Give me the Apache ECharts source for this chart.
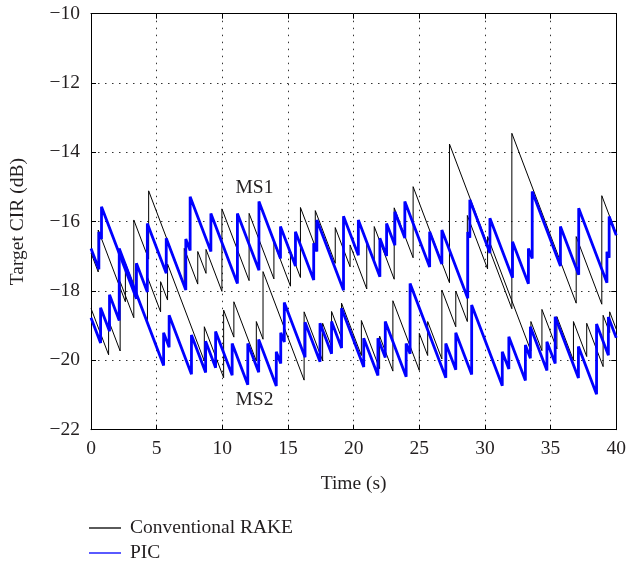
<!DOCTYPE html>
<html>
<head>
<meta charset="utf-8">
<script src="https://cdn.jsdelivr.net/npm/echarts@6/dist/echarts.min.js"></script>
<style>html,body{margin:0;padding:0;background:#fff;}#c{width:629px;height:567px;}</style>
</head>
<body>
<div id="c"></div>
<script>
// ---- Data (time in s, target CIR in dB) ----
const xTicks = [0, 5, 10, 15, 20, 25, 30, 35, 40];
const yTicks = [-22, -20, -18, -16, -14, -12, -10];
const seriesNames = ['Conventional RAKE', 'PIC'];

const rakeMS1 = [[0,-16.9],[0.55,-17.45],[0.55,-16.24],[2.62,-18.31],[2.62,-17.2],[3.26,-17.84],[3.26,-15.95],[4.39,-17.08],[4.39,-15.11],[7.1,-17.82],[7.1,-16.77],[8.13,-17.8],[8.13,-16.86],[8.76,-17.49],[8.76,-16.8],[9.97,-18.01],[9.97,-15.63],[12.04,-17.7],[12.04,-15.76],[13.93,-17.65],[13.93,-16.6],[15.19,-17.86],[15.19,-16.85],[15.95,-17.61],[15.95,-15.59],[17.08,-16.72],[17.08,-15.68],[18.6,-17.2],[18.6,-16.17],[19.73,-17.3],[19.73,-16.67],[21.0,-17.94],[21.0,-16.6],[21.57,-17.17],[21.57,-16.14],[23.09,-17.66],[23.09,-15.6],[24.53,-17.04],[24.53,-14.99],[27.3,-17.76],[27.3,-13.76],[32.05,-18.51],[32.05,-13.45],[36.95,-18.35],[36.95,-16.43],[38.9,-18.38],[38.9,-15.25],[40,-16.35]];

const rakeMS2 = [[0,-18.5],[1.34,-19.84],[1.34,-18.85],[2.22,-19.73],[2.22,-17.73],[3.26,-18.77],[3.26,-17.87],[4.3,-18.91],[4.3,-17.6],[5.3,-18.6],[5.3,-17.73],[5.83,-18.26],[5.83,-17.22],[8.63,-20.02],[8.63,-19.03],[10.1,-20.5],[10.1,-18.55],[10.88,-19.33],[10.88,-18.31],[12.59,-20.02],[12.59,-18.88],[13.1,-19.39],[13.1,-17.44],[16.23,-20.57],[16.23,-18.6],[17.64,-20.01],[17.64,-18.93],[18.32,-19.61],[18.32,-18.59],[19.08,-19.35],[19.08,-18.35],[20.59,-19.86],[20.59,-18.85],[21.98,-20.24],[21.98,-19.3],[22.99,-20.31],[22.99,-18.28],[25.0,-20.29],[25.0,-19.22],[25.64,-19.86],[25.64,-18.88],[26.72,-19.96],[26.72,-17.97],[27.78,-19.03],[27.78,-18.0],[28.66,-18.88],[28.66,-15.82],[30.2,-17.36],[30.2,-16.43],[33.5,-19.73],[33.5,-18.88],[34.34,-19.72],[34.34,-18.53],[35.48,-19.67],[35.48,-18.74],[36.74,-20.0],[36.74,-18.88],[37.75,-19.89],[37.75,-18.93],[39.0,-20.18],[39.0,-18.7],[39.5,-19.2],[39.5,-18.6],[40,-19.1]];

const picMS1 = [[0,-16.77],[0.6,-17.37],[0.6,-16.3],[0.8,-16.5],[0.8,-15.57],[3.46,-18.22],[3.46,-17.2],[4.29,-18.03],[4.29,-16.05],[5.73,-17.49],[5.73,-16.48],[7.22,-17.97],[7.22,-16.5],[7.55,-16.83],[7.55,-15.28],[9.13,-16.86],[9.13,-15.76],[11.15,-17.78],[11.15,-15.76],[12.79,-17.4],[12.79,-15.42],[14.43,-17.06],[14.43,-16.14],[15.57,-17.28],[15.57,-16.29],[16.96,-17.68],[16.96,-16.62],[17.2,-16.86],[17.2,-15.95],[19.23,-17.98],[19.23,-15.84],[20.36,-16.97],[20.36,-15.95],[22.0,-17.59],[22.0,-16.48],[22.51,-16.99],[22.51,-16.05],[23.14,-16.68],[23.14,-15.71],[23.9,-16.47],[23.9,-15.42],[25.79,-17.31],[25.79,-16.29],[26.72,-17.22],[26.72,-16.24],[28.69,-18.21],[28.69,-16.3],[28.85,-16.46],[28.85,-15.37],[30.38,-16.9],[30.38,-15.9],[32.1,-17.62],[32.1,-16.58],[33.31,-17.79],[33.31,-16.77],[33.6,-17.06],[33.6,-15.13],[35.75,-17.28],[35.75,-16.14],[37.14,-17.53],[37.14,-15.61],[39.29,-17.76],[39.29,-16.87],[39.46,-17.04],[39.46,-15.85],[40,-16.39]];

const picMS2 = [[0,-18.77],[0.73,-19.5],[0.73,-18.48],[1.41,-19.16],[1.41,-18.11],[2.15,-18.85],[2.15,-16.77],[5.53,-20.15],[5.53,-19.2],[5.95,-19.62],[5.95,-18.7],[7.65,-20.4],[7.65,-19.27],[8.73,-20.35],[8.73,-19.45],[9.49,-20.21],[9.49,-19.17],[10.75,-20.43],[10.75,-19.51],[11.94,-20.7],[11.94,-19.51],[12.77,-20.34],[12.77,-19.4],[14.11,-20.74],[14.11,-19.75],[14.45,-20.09],[14.45,-19.2],[14.72,-19.47],[14.72,-18.33],[16.3,-19.91],[16.3,-18.9],[17.44,-20.04],[17.44,-18.93],[18.32,-19.81],[18.32,-18.88],[19.08,-19.64],[19.08,-18.5],[20.77,-20.19],[20.77,-19.36],[21.85,-20.44],[21.85,-19.36],[22.41,-19.92],[22.41,-18.88],[24.0,-20.47],[24.0,-19.51],[24.3,-19.81],[24.3,-17.78],[27.02,-20.5],[27.02,-19.51],[27.78,-20.27],[27.78,-19.2],[28.99,-20.41],[28.99,-18.4],[31.32,-20.73],[31.32,-19.75],[31.82,-20.25],[31.82,-19.32],[33.08,-20.58],[33.08,-19.56],[33.46,-19.94],[33.46,-19.03],[34.72,-20.29],[34.72,-19.46],[35.35,-20.09],[35.35,-18.74],[37.12,-20.51],[37.12,-19.6],[38.5,-20.98],[38.5,-18.95],[39.4,-19.85],[39.4,-18.75],[40,-19.35]];

const annotations = [['MS1', 12.45, -15.03], ['MS2', 12.45, -21.15]];

// ---- Chart ----
const FONT = '"Liberation Serif", "DejaVu Serif", serif';
const FS = 19.5;
const TXT = '#231f20';
const chart = echarts.init(document.getElementById('c'), null, {renderer: 'canvas'});
const fmtMinus = v => String(v).replace('-', '\u2212');

const axisCommon = {
  type: 'value', min: 0, max: 40, interval: 5,
  axisLine: {show: true, onZero: false, lineStyle: {color: '#000', width: 1}},
  axisTick: {show: true, inside: true, length: 5, lineStyle: {color: '#000'}}
};
const legendCommon = {
  orient: 'vertical', left: 89, padding: 0,
  icon: 'rect', itemWidth: 32, itemHeight: 1.3,
  textStyle: {fontFamily: FONT, fontSize: FS, color: TXT, padding: [0, 0, 0, 4]},
  selectedMode: false
};

chart.setOption({
  animation: false,
  backgroundColor: '#fff',
  grid: {left: 91, right: 9.5, top: 13.7, bottom: 137.3, containLabel: false},
  legend: [
    Object.assign({}, legendCommon, {data: [seriesNames[0]], top: 518}),
    Object.assign({}, legendCommon, {data: [seriesNames[1]], top: 543})
  ],
  xAxis: [
    Object.assign({}, axisCommon, {
      position: 'bottom',
      name: 'Time (s)', nameLocation: 'middle', nameGap: 44,
      nameTextStyle: {fontFamily: FONT, fontSize: FS, color: TXT},
      axisLabel: {fontFamily: FONT, fontSize: FS, color: TXT, margin: 9,
        formatter: v => xTicks.indexOf(v) >= 0 ? String(v) : ''},
      splitLine: {show: true, lineStyle: {color: '#333', type: [1.5, 5.5], width: 1}}
    }),
    Object.assign({}, axisCommon, {
      position: 'top', axisLabel: {show: false}, splitLine: {show: false}
    })
  ],
  yAxis: [
    {
      type: 'value', min: -22, max: -10, interval: 2, position: 'left',
      name: 'Target CIR (dB)', nameLocation: 'middle', nameGap: 63, nameRotate: 90,
      nameTextStyle: {fontFamily: FONT, fontSize: FS, color: TXT},
      axisLine: {show: true, onZero: false, lineStyle: {color: '#000', width: 1}},
      axisTick: {show: true, inside: true, length: 5, lineStyle: {color: '#000'}},
      axisLabel: {fontFamily: FONT, fontSize: FS, color: TXT, margin: 11,
        formatter: v => yTicks.indexOf(v) >= 0 ? fmtMinus(v) : ''},
      splitLine: {show: true, lineStyle: {color: '#333', type: [1.5, 5.5], width: 1}}
    },
    {
      type: 'value', min: -22, max: -10, interval: 2, position: 'right',
      axisLine: {show: true, onZero: false, lineStyle: {color: '#000', width: 1}},
      axisTick: {show: true, inside: true, length: 5, lineStyle: {color: '#000'}},
      axisLabel: {show: false}, splitLine: {show: false}
    }
  ],
  series: [
    {name: seriesNames[0], type: 'line', data: rakeMS1, showSymbol: false, symbol: 'none',
      lineStyle: {color: '#000', width: 1}, itemStyle: {color: '#000'}, z: 2},
    {name: seriesNames[0], type: 'line', data: rakeMS2, showSymbol: false, symbol: 'none',
      lineStyle: {color: '#000', width: 1}, itemStyle: {color: '#000'}, z: 2},
    {name: seriesNames[1], type: 'line', data: picMS1, showSymbol: false, symbol: 'none',
      lineStyle: {color: '#0000ff', width: 2.8}, itemStyle: {color: '#0000ff'}, z: 3},
    {name: seriesNames[1], type: 'line', data: picMS2, showSymbol: false, symbol: 'none',
      lineStyle: {color: '#0000ff', width: 2.8}, itemStyle: {color: '#0000ff'}, z: 3},
    {name: 'labels', type: 'scatter', symbolSize: 0, silent: true, z: 5,
      itemStyle: {opacity: 1},
      data: annotations.map(a => ({value: [a[1], a[2]], name: a[0]})),
      label: {show: true, position: 'inside', formatter: p => p.name, opacity: 1,
        fontFamily: FONT, fontSize: FS, color: TXT, textBorderWidth: 0}}
  ]
});
</script>
</body>
</html>
